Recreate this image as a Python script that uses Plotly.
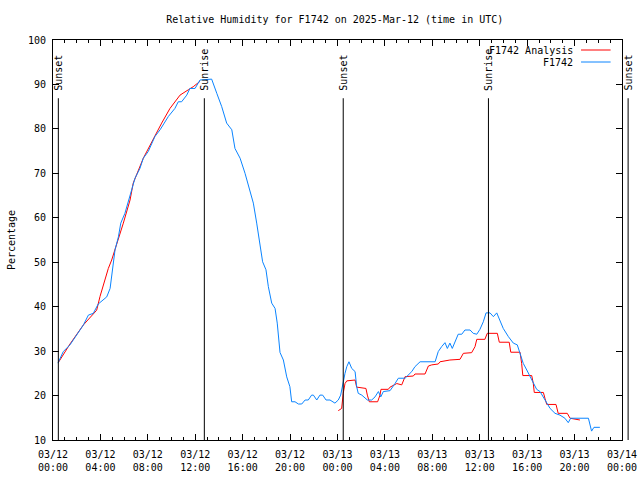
import pandas as pd
import plotly.graph_objects as go

# ---------------- data ----------------
obs_times = [
    "2025-03-12 00:25", "2025-03-12 00:52", "2025-03-12 01:26", "2025-03-12 02:08", "2025-03-12 02:34",
    "2025-03-12 02:59", "2025-03-12 03:24", "2025-03-12 03:49", "2025-03-12 04:15", "2025-03-12 04:32",
    "2025-03-12 04:49", "2025-03-12 04:57", "2025-03-12 05:05", "2025-03-12 05:14", "2025-03-12 05:31",
    "2025-03-12 05:43", "2025-03-12 06:04", "2025-03-12 06:21", "2025-03-12 06:38", "2025-03-12 06:55",
    "2025-03-12 07:20", "2025-03-12 07:37", "2025-03-12 08:02", "2025-03-12 08:36", "2025-03-12 09:02",
    "2025-03-12 09:44", "2025-03-12 10:17", "2025-03-12 10:34", "2025-03-12 10:51", "2025-03-12 11:17",
    "2025-03-12 11:33", "2025-03-12 11:59", "2025-03-12 12:24", "2025-03-12 13:23", "2025-03-12 13:49",
    "2025-03-12 14:14", "2025-03-12 14:39", "2025-03-12 15:05", "2025-03-12 15:21", "2025-03-12 15:47",
    "2025-03-12 16:12", "2025-03-12 16:37", "2025-03-12 16:54", "2025-03-12 17:11", "2025-03-12 17:28",
    "2025-03-12 17:41", "2025-03-12 17:58", "2025-03-12 18:10", "2025-03-12 18:27", "2025-03-12 18:44",
    "2025-03-12 18:55", "2025-03-12 19:09", "2025-03-12 19:26", "2025-03-12 19:43", "2025-03-12 19:59",
    "2025-03-12 20:08", "2025-03-12 20:25", "2025-03-12 20:42", "2025-03-12 20:59", "2025-03-12 21:16",
    "2025-03-12 21:32", "2025-03-12 21:49", "2025-03-12 21:58", "2025-03-12 22:15", "2025-03-12 22:31",
    "2025-03-12 22:45", "2025-03-12 23:02", "2025-03-12 23:22", "2025-03-12 23:47", "2025-03-13 00:04",
    "2025-03-13 00:16", "2025-03-13 00:26", "2025-03-13 00:38", "2025-03-13 00:47", "2025-03-13 00:58",
    "2025-03-13 01:12", "2025-03-13 01:29", "2025-03-13 01:37", "2025-03-13 01:45", "2025-03-13 02:03",
    "2025-03-13 02:19", "2025-03-13 02:31", "2025-03-13 02:53", "2025-03-13 03:10", "2025-03-13 03:27",
    "2025-03-13 03:39", "2025-03-13 03:52", "2025-03-13 04:26", "2025-03-13 04:51", "2025-03-13 05:08",
    "2025-03-13 05:42", "2025-03-13 05:58", "2025-03-13 06:16", "2025-03-13 06:32", "2025-03-13 06:58",
    "2025-03-13 08:14", "2025-03-13 08:30", "2025-03-13 08:47", "2025-03-13 09:04", "2025-03-13 09:16",
    "2025-03-13 09:29", "2025-03-13 09:41", "2025-03-13 09:55", "2025-03-13 10:11", "2025-03-13 10:29",
    "2025-03-13 10:45", "2025-03-13 11:11", "2025-03-13 11:27", "2025-03-13 11:45", "2025-03-13 12:01",
    "2025-03-13 12:18", "2025-03-13 12:32", "2025-03-13 12:52", "2025-03-13 13:09", "2025-03-13 13:26",
    "2025-03-13 13:43", "2025-03-13 13:59", "2025-03-13 14:25", "2025-03-13 14:50", "2025-03-13 15:10",
    "2025-03-13 15:27", "2025-03-13 15:40", "2025-03-13 15:58", "2025-03-13 16:14", "2025-03-13 16:31",
    "2025-03-13 16:48", "2025-03-13 17:05", "2025-03-13 17:30", "2025-03-13 17:56", "2025-03-13 18:21",
    "2025-03-13 18:46", "2025-03-13 19:11", "2025-03-13 19:28", "2025-03-13 19:40", "2025-03-13 21:10",
    "2025-03-13 21:26", "2025-03-13 21:38", "2025-03-13 22:08",
]
obs_rh = [
    27.3, 29.9, 31.4, 34.0, 35.9, 38.1, 38.5, 40.6, 41.7, 42.2,
    44.1, 47.1, 49.8, 52.8, 55.7, 58.8, 61.0, 63.6, 66.3, 68.9,
    71.1, 73.4, 74.9, 78.3, 79.8, 82.8, 84.6, 86.1, 86.1, 87.6,
    89.1, 89.1, 91.0, 91.2, 88.0, 85.0, 81.3, 79.8, 75.6, 73.4,
    70.0, 66.3, 63.3, 58.8, 53.5, 50.1, 48.3, 44.5, 40.8, 39.6,
    36.3, 29.7, 28.0, 24.2, 22.0, 18.6, 18.6, 18.1, 18.1, 19.0,
    19.0, 20.1, 20.1, 19.0, 20.1, 20.1, 19.0, 19.0, 18.3, 19.0,
    20.1, 22.7, 25.0, 26.5, 27.6, 26.1, 25.4, 22.0, 20.5, 20.1,
    19.4, 19.0, 19.0, 19.7, 20.9, 19.7, 20.9, 21.1, 22.7, 23.9,
    23.9, 24.6, 25.4, 26.5, 27.6, 27.6, 29.9, 31.0, 31.9, 30.6,
    31.8, 30.6, 32.1, 33.8, 33.8, 34.75, 34.75, 34.0, 33.8, 34.9,
    36.6, 38.6, 38.6, 37.75, 38.6, 36.6, 35.1, 33.25, 31.8, 31.4,
    28.8, 27.25, 25.75, 24.4, 22.75, 21.4, 20.9, 19.0, 17.1, 16.0,
    15.6, 14.9, 13.9, 14.9, 14.9, 12.0, 12.85, 12.85,
]

ana_times = [
    "2025-03-12 00:28", "2025-03-12 01:26", "2025-03-12 02:34", "2025-03-12 03:41", "2025-03-12 03:58",
    "2025-03-12 04:15", "2025-03-12 04:40", "2025-03-12 04:57", "2025-03-12 05:14", "2025-03-12 05:31",
    "2025-03-12 05:56", "2025-03-12 06:30", "2025-03-12 06:46", "2025-03-12 07:37", "2025-03-12 08:28",
    "2025-03-12 09:10", "2025-03-12 09:52", "2025-03-12 10:43", "2025-03-12 11:25", "2025-03-12 11:50",
    "2025-03-12 12:24", "2025-03-12 18:00",
    "2025-03-13 00:04", "2025-03-13 00:21", "2025-03-13 00:29", "2025-03-13 00:38", "2025-03-13 00:47",
    "2025-03-13 01:12", "2025-03-13 01:29", "2025-03-13 01:37", "2025-03-13 02:24", "2025-03-13 02:31",
    "2025-03-13 02:41", "2025-03-13 03:23", "2025-03-13 03:35", "2025-03-13 03:40", "2025-03-13 04:17",
    "2025-03-13 04:26", "2025-03-13 04:51", "2025-03-13 05:00", "2025-03-13 05:25", "2025-03-13 05:42",
    "2025-03-13 06:24", "2025-03-13 06:32", "2025-03-13 07:23", "2025-03-13 07:40", "2025-03-13 07:57",
    "2025-03-13 08:30", "2025-03-13 08:39", "2025-03-13 09:04", "2025-03-13 09:29", "2025-03-13 10:20",
    "2025-03-13 10:37", "2025-03-13 11:19", "2025-03-13 11:36", "2025-03-13 11:45", "2025-03-13 12:26",
    "2025-03-13 12:38", "2025-03-13 13:29", "2025-03-13 13:39", "2025-03-13 14:29", "2025-03-13 14:37",
    "2025-03-13 15:24", "2025-03-13 15:32", "2025-03-13 15:38", "2025-03-13 16:23", "2025-03-13 16:31",
    "2025-03-13 16:36", "2025-03-13 17:22", "2025-03-13 17:30", "2025-03-13 17:39", "2025-03-13 18:26",
    "2025-03-13 18:37", "2025-03-13 19:23", "2025-03-13 19:37", "2025-03-13 20:27",
]
ana_rh = [
    27.5, 31.6, 35.9, 39.2, 42.3, 44.9, 48.6, 50.5, 52.8, 55.4,
    58.8, 64.0, 67.8, 73.4, 77.9, 81.3, 84.6, 87.6, 88.8, 89.5,
    90.7, None,
    16.6, 17.1, 20.5, 22.7, 23.3, 23.5, 23.5, 21.9, 21.6, 20.1,
    18.6, 18.6, 20.1, 21.4, 21.4, 21.9, 22.4, 22.7, 22.4, 24.25,
    24.4, 24.85, 24.85, 26.65, 26.9, 27.1, 27.6, 27.85, 28.0, 28.15,
    29.5, 29.65, 31.0, 32.65, 32.65, 34.0, 34.0, 32.0, 32.0, 29.75,
    29.75, 27.25, 24.5, 24.5, 22.75, 20.7, 20.7, 19.4, 18.0, 18.0,
    16.0, 16.0, 14.9, 14.5,
]

sun_events = ["Sunset", "Sunrise", "Sunset", "Sunrise", "Sunset"]
sun_times = ["2025-03-12 00:27", "2025-03-12 12:46", "2025-03-13 00:29",
             "2025-03-13 12:44", "2025-03-14 00:31"]

x_start = "2025-03-12 00:00"
x_end = "2025-03-14 00:00"
y_tick_vals = [10, 20, 30, 40, 50, 60, 70, 80, 90, 100]

series_names = ["F1742 Analysis", "F1742"]
series_colors = ["#ff0000", "#0a84ff"]

# ---------------- figure ----------------
FONT = "DejaVu Sans Mono"
fig = go.Figure()
fig.add_trace(go.Scatter(x=pd.to_datetime(ana_times), y=ana_rh, mode="lines",
                         name=series_names[0], line=dict(color=series_colors[0], width=1),
                         connectgaps=False))
fig.add_trace(go.Scatter(x=pd.to_datetime(obs_times), y=obs_rh, mode="lines",
                         name=series_names[1], line=dict(color=series_colors[1], width=1)))

t0 = pd.Timestamp(x_start)
t1 = pd.Timestamp(x_end)
for ev, ts in zip(sun_events, sun_times):
    frac = (pd.Timestamp(ts) - t0) / (t1 - t0)
    fig.add_shape(type="line", xref="paper", yref="y", x0=frac, x1=frac, y0=10, y1=86.9,
                  line=dict(color="black", width=1))
    fig.add_annotation(xref="paper", yref="y", x=frac, y=88.2, text=ev, textangle=-90,
                       showarrow=False, xanchor="center", yanchor="bottom",
                       font=dict(family=FONT, size=10, color="black"))

# key (gnuplot style: text right-aligned, sample line to the right)
for i, (nm, col) in enumerate(zip(series_names, series_colors)):
    yk = 0.975 - i * 0.03
    fig.add_annotation(xref="paper", yref="paper", x=0.918, y=yk, text=nm,
                       showarrow=False, xanchor="right", yanchor="middle",
                       font=dict(family=FONT, size=10, color="black"))
    fig.add_shape(type="line", xref="paper", yref="paper", x0=0.928, x1=0.98, y0=yk, y1=yk,
                  line=dict(color=col, width=1))

fig.update_layout(
    width=640, height=480,
    margin=dict(l=53, r=18, t=40, b=40, autoexpand=False),
    paper_bgcolor="white", plot_bgcolor="white",
    font=dict(family=FONT, size=10, color="black"),
    title=dict(text="Relative Humidity for F1742 on 2025-Mar-12 (time in UTC)",
               x=0.523, xanchor="center", y=0.96, yanchor="middle",
               font=dict(family=FONT, size=10, color="black")),
    showlegend=False,
)
fig.update_xaxes(range=[x_start, x_end], showgrid=False, zeroline=False, automargin=False,
                 showline=True, linecolor="black", linewidth=1, mirror="ticks",
                 ticks="inside", ticklen=6, tickcolor="black", ticklabelstandoff=5,
                 ticklabeloverflow="allow",
                 tickfont=dict(family=FONT, size=10, color="black"),
                 dtick=4 * 3600 * 1000, tick0=x_start, tickformat="%m/%d<br>%H:%M",
                 minor=dict(dtick=3600 * 1000, ticks="inside", ticklen=3, tickcolor="black"))
fig.update_yaxes(range=[10, 100], tickvals=y_tick_vals, showgrid=False, zeroline=False,
                 automargin=False, ticklabelstandoff=4,
                 tickfont=dict(family=FONT, size=10, color="black"),
                 showline=True, linecolor="black", linewidth=1, mirror="ticks",
                 ticks="inside", ticklen=6, tickcolor="black",
                 title=dict(text="Percentage", standoff=10,
                            font=dict(family=FONT, size=10, color="black")))

# remove the browser's default page margin so the 640x480 figure fills the window
fig.write_html("out.html",
               config={"displayModeBar": False},
               post_script="document.body.style.margin='0';document.body.style.overflow='hidden';")
